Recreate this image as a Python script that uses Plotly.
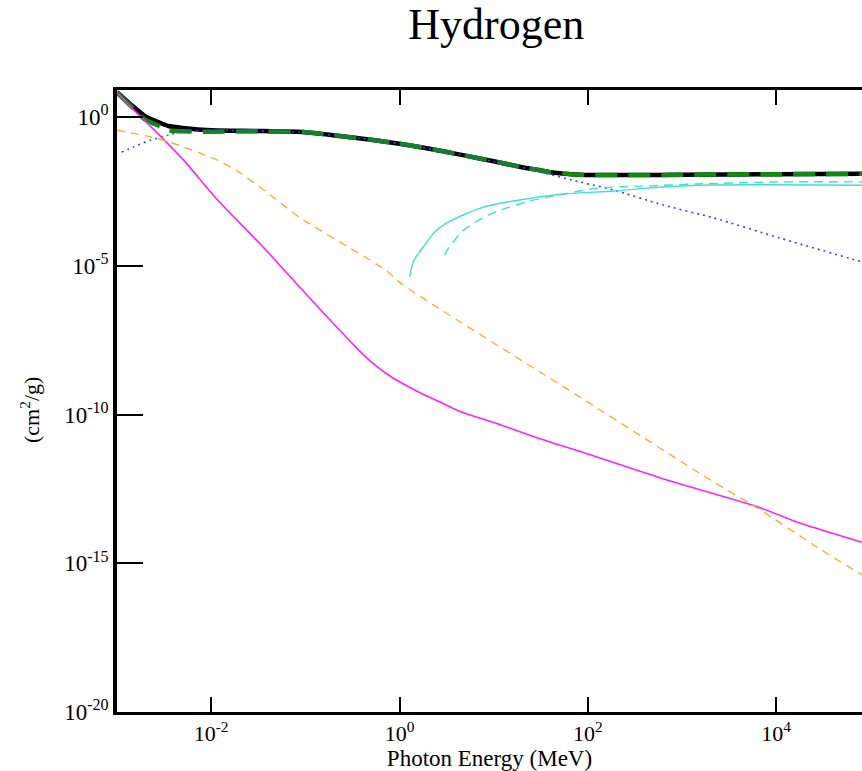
import plotly.graph_objects as go

# ---- data (photon energy in MeV, mass attenuation in cm^2/g) ----
tot_E = [1.0e-3, 1.5e-3, 2.0e-3, 3.0e-3, 3.5e-3, 5.0e-3, 1.0e-2, 3.0e-2, 1.0e-1, 3.0e-1,
         0.5, 1.0, 2.0, 3.0, 5.0, 10.0, 20.0, 30.0, 40.0, 80.0, 300.0, 1000.0, 1.0e4, 8.1e4]
tot_V = [6.9, 2.2, 1.05, 0.6, 0.5, 0.43, 0.36, 0.34, 0.31, 0.21,
         0.173, 0.126, 0.0877, 0.069, 0.0505, 0.0325, 0.0205, 0.0165, 0.014, 0.0115,
         0.0112, 0.0114, 0.012, 0.0123]

nocoh_E = tot_E
nocoh_V = [6.56, 1.9, 0.8, 0.46, 0.36, 0.33, 0.32, 0.33, 0.31, 0.21,
           0.173, 0.126, 0.0877, 0.069, 0.0505, 0.0325, 0.0205, 0.0165, 0.014, 0.0115,
           0.0112, 0.0114, 0.012, 0.0123]

incoh_E = [1.12e-3, 1.5e-3, 2.3e-3, 3.5e-3, 4.8e-3, 1.0e-2, 3.0e-2, 1.0e-1, 3.0e-1, 0.5,
           1.0, 2.0, 3.0, 5.0, 10.0, 20.7, 83.0, 186.0, 631.0, 2140.0, 1.1e4, 8.1e4]
incoh_V = [0.066, 0.098, 0.17, 0.245, 0.316, 0.355, 0.34, 0.30, 0.21, 0.173,
           0.126, 0.0877, 0.069, 0.0500, 0.032, 0.0195, 0.0065, 0.00355, 0.0011,
           4.1e-4, 8.5e-5, 1.35e-5]

photo_E = [1.0e-3, 1.5e-3, 1.95e-3, 2.95e-3, 5.1e-3, 1.17e-2, 3.4e-2, 8.9e-2, 0.186, 0.36,
           0.53, 0.805, 1.22, 1.8, 2.73, 4.24, 10.0, 31.6, 100.0, 692.0, 6300.0, 1.78e4,
           8.1e4]
photo_V = [6.5, 1.74, 0.79, 0.214, 0.0355, 1.62e-3, 5.0e-5, 1.78e-6, 1.41e-7, 1.58e-8,
           5.0e-9, 1.9e-9, 8.9e-10, 4.7e-10, 2.57e-10, 1.32e-10, 5.4e-11, 1.5e-11, 4.7e-12,
           6.3e-13, 7.9e-14, 2.24e-14, 5.1e-15]

coh_E = [1.0e-3, 2.3e-3, 3.5e-3, 5.1e-3, 7.5e-3, 1.17e-2, 1.8e-2, 2.6e-2, 4.0e-2, 8.9e-2,
         0.71, 1.03, 100.0, 2000.0, 6300.0, 2.7e4, 8.1e4]
coh_V = [0.36, 0.214, 0.148, 0.098, 0.062, 0.0355, 0.017, 7.6e-3, 2.8e-3, 4.0e-4,
         7.2e-6, 2.6e-6, 2.6e-10, 6.3e-13, 7.2e-14, 3.5e-15, 4.1e-16]

pairn_E = [1.28, 1.41, 1.67, 2.42, 3.48, 7.24, 16.2, 55.0, 186.0, 427.0, 1445.0, 8.1e4]
pairn_V = [4.2e-6, 1.45e-5, 3.2e-5, 1.48e-4, 3.2e-4, 8.7e-4, 1.51e-3, 2.57e-3, 3.24e-3,
           4.07e-3, 5.1e-3, 5.1e-3]

paire_E = [3.0, 3.32, 4.67, 7.24, 11.0, 24.5, 55.0, 126.0, 427.0, 1445.0, 1.1e4, 8.1e4]
paire_V = [2.3e-5, 4.0e-5, 1.48e-4, 3.7e-4, 6.9e-4, 1.51e-3, 2.57e-3, 4.07e-3, 4.8e-3,
           5.6e-3, 6.6e-3, 6.6e-3]

x_ticks = [1e-2, 1e0, 1e2, 1e4]
x_ticktext = ["10<sup>-2</sup>", "10<sup>0</sup>", "10<sup>2</sup>", "10<sup>4</sup>"]
y_ticks = [1e-20, 1e-15, 1e-10, 1e-5, 1e0]
y_ticktext = ["10<sup>-20</sup>", "10<sup>-15</sup>", "10<sup>-10</sup>",
              "10<sup>-5</sup>", "10<sup>0</sup>"]

SERIF = "Liberation Serif, Times New Roman, serif"


def curve(x, y, name, color, width, dash="solid", smooth=0.7):
    return go.Scatter(x=x, y=y, mode="lines", name=name,
                      line=dict(color=color, width=width, dash=dash,
                                shape="spline", smoothing=smooth))


fig = go.Figure()
fig.add_trace(curve(tot_E, tot_V, "Total", "black", 4.5, smooth=0.5))
fig.add_trace(curve(nocoh_E, nocoh_V, "Total w/o coherent", "#118811", 4.5,
                    dash="22px,11px", smooth=0.5))
fig.add_trace(curve(incoh_E, incoh_V, "Incoherent", "#3344ff", 1.6, dash="2px,4px"))
fig.add_trace(curve(photo_E, photo_V, "Photoelectric", "#ff22ff", 1.6))
fig.add_trace(curve(coh_E, coh_V, "Coherent", "#ffaa33", 1.4, dash="8px,6px"))
fig.add_trace(curve(pairn_E, pairn_V, "Pair (nuclear)", "#40e0d0", 1.4))
fig.add_trace(curve(paire_E, paire_V, "Pair (electron)", "#40e0d0", 1.4, dash="9px,6px"))

fig.update_layout(
    width=862, height=771,
    margin=dict(l=117, r=0, t=90, b=59),
    paper_bgcolor="white", plot_bgcolor="white",
    showlegend=False,
    font=dict(family=SERIF, color="black", size=22),
    title=dict(text="Hydrogen", font=dict(family=SERIF, size=44, color="black"),
               x=0.509, xref="paper", xanchor="center",
               y=1 - 24 / 771, yref="container", yanchor="middle"),
    xaxis=dict(type="log", range=[-3, 4.911], tickvals=x_ticks, ticktext=x_ticktext,
               showgrid=False, zeroline=False,
               showline=True, linecolor="black", linewidth=3, mirror="ticks",
               ticks="inside", ticklen=15, tickwidth=1.6, tickcolor="black",
               tickfont=dict(family=SERIF, size=22),
               title=dict(text="Photon Energy (MeV)", font=dict(family=SERIF, size=23),
                          standoff=6)),
    yaxis=dict(type="log", range=[-20, 0.908], tickvals=y_ticks, ticktext=y_ticktext,
               showgrid=False, zeroline=False,
               showline=True, linecolor="black", linewidth=3.5,
               ticks="inside", ticklen=26, tickwidth=1.6, tickcolor="black",
               tickfont=dict(family=SERIF, size=23)),
    yaxis2=dict(type="log", range=[-20, 0.908], tickvals=y_ticks, overlaying="y",
                side="right", anchor="free", position=1, showticklabels=False,
                showline=False, showgrid=False, zeroline=False,
                ticks="inside", ticklen=14, tickwidth=1.6, tickcolor="black"),
    annotations=[dict(text="(cm<sup>2</sup>/g)", textangle=-90, showarrow=False,
                      xref="paper", yref="paper",
                      x=(30 - 117) / 745, y=(712 - 410) / 622,
                      xanchor="center", yanchor="middle",
                      font=dict(family=SERIF, size=22, color="black"))],
)

fig.write_html("out.html", config={"displayModeBar": False},
               post_script="document.body.style.margin='0px';"
                           "document.body.style.overflow='hidden';")
